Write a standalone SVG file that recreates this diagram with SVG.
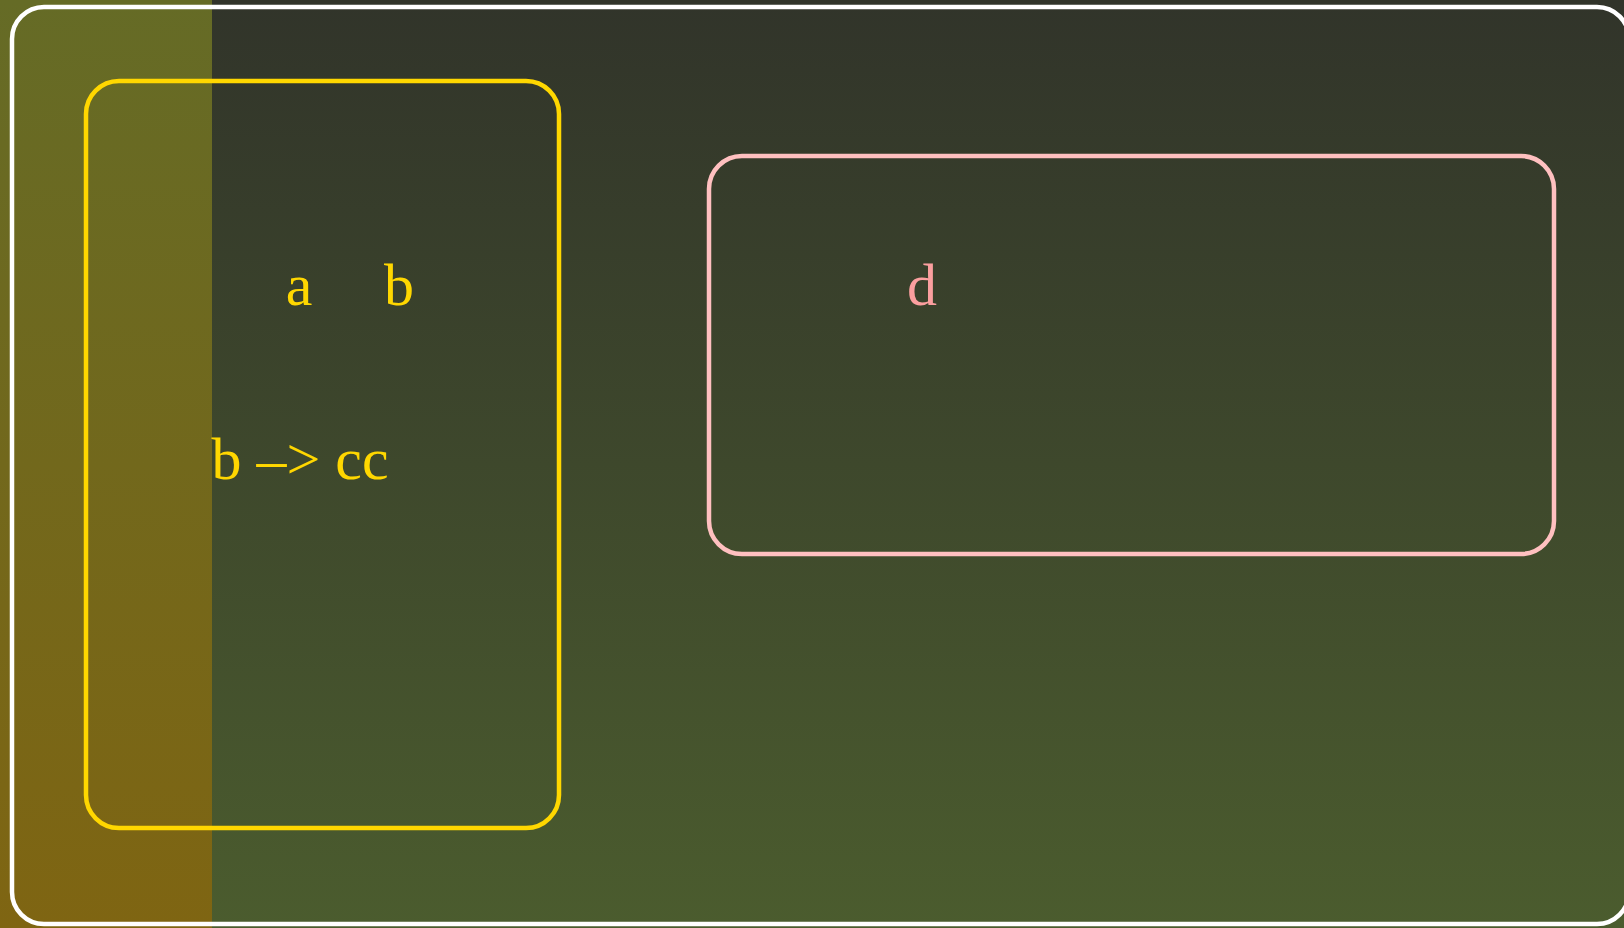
<svg xmlns="http://www.w3.org/2000/svg" width="1624" height="928" viewBox="0 0 1624 928">
  <defs>
    <linearGradient id="bg" x1="0" y1="0" x2="0" y2="1">
      <stop offset="0" stop-color="#31342a"/>
      <stop offset="1" stop-color="#4b5c2e"/>
    </linearGradient>
    <linearGradient id="strip" x1="0" y1="0" x2="0" y2="1">
      <stop offset="0" stop-color="#656b26"/>
      <stop offset="1" stop-color="#7f6512"/>
    </linearGradient>
  </defs>
  <style>
    .frame { fill: none; stroke: #ffffff; stroke-width: 4.5; }
    .cluster-y { fill: none; stroke: #ffd700; stroke-width: 4.5; }
    .cluster-p { fill: none; stroke: #ffc0c0; stroke-width: 4.5; }
    .ty { fill: #ffd700; font-family: "Liberation Serif", "Times New Roman", serif; font-size: 60px; text-anchor: middle; }
    .tp { fill: #fb9f9f; font-family: "Liberation Serif", "Times New Roman", serif; font-size: 60px; text-anchor: middle; }
  </style>
  <rect x="0" y="0" width="1624" height="928" fill="url(#bg)"/>
  <rect x="0" y="0" width="212" height="928" fill="url(#strip)"/>
  <rect class="frame" x="12" y="7" width="1617" height="917" rx="32" ry="32"/>
  <g id="cluster-left">
    <rect class="cluster-y" x="86" y="81" width="473" height="747" rx="33" ry="33"/>
  </g>
  <g id="node-a">
    <text class="ty" x="299" y="305">a</text>
  </g>
  <g id="node-b">
    <text class="ty" x="399" y="305">b</text>
  </g>
  <g id="node-bcc">
    <text class="ty" x="300" y="479">b –&gt; cc</text>
  </g>
  <g id="cluster-right">
    <rect class="cluster-p" x="709" y="156" width="845" height="398" rx="33" ry="33"/>
  </g>
  <g id="node-d">
    <text class="tp" x="922" y="305">d</text>
  </g>
  <g id="connectors"></g>
</svg>
